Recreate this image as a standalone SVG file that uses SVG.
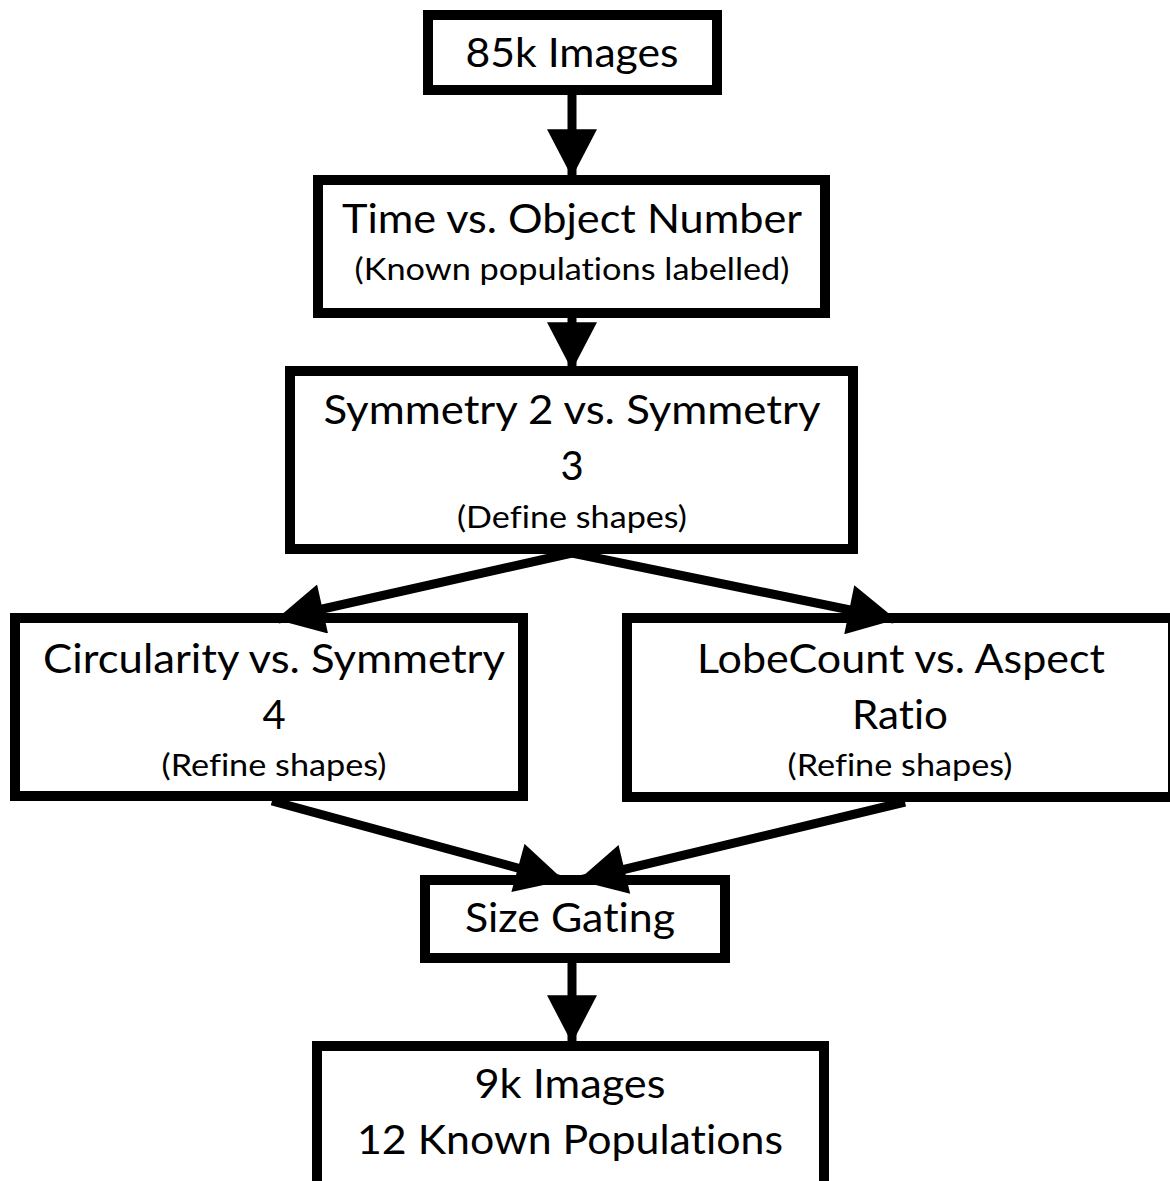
<svg xmlns="http://www.w3.org/2000/svg" width="1170" height="1181" viewBox="0 0 1170 1181">
<style>
.box{fill:#fff;stroke:#000;stroke-width:10}
.t{font-family:Lato,"Open Sans","Liberation Sans",sans-serif;font-size:40px;fill:#000;text-anchor:middle;font-variant-ligatures:none;font-feature-settings:"liga" 0,"dlig" 0}
.s{font-family:Lato,"Open Sans","Liberation Sans",sans-serif;font-size:30px;fill:#000;text-anchor:middle;font-variant-ligatures:none;font-feature-settings:"liga" 0,"dlig" 0}
.c{stroke:#000;stroke-width:9;fill:none;marker-end:url(#ah)}
</style>
<defs>
<marker id="ah" markerUnits="userSpaceOnUse" markerWidth="50" markerHeight="50" viewBox="0 0 44 46" refX="42" refY="23" orient="auto">
<path d="M0,0 L44,23 L0,46 Z" fill="#000"/>
</marker>
</defs>
<rect width="1170" height="1181" fill="#fff"/>
<g id="n1">
<rect class="box" x="428" y="15" width="289" height="75"/>
<text class="t" x="572" y="67" textLength="213" lengthAdjust="spacingAndGlyphs">85k Images</text>
</g>
<g id="n2">
<rect class="box" x="318" y="180" width="507" height="133"/>
<text class="t" x="572" y="233" textLength="460" lengthAdjust="spacingAndGlyphs">Time vs. Object Number</text>
<text class="s" x="572" y="280" textLength="435" lengthAdjust="spacingAndGlyphs">(Known populations labelled)</text>
</g>
<g id="n3">
<rect class="box" x="290" y="371" width="563" height="178"/>
<text class="t" x="572" y="424" textLength="497" lengthAdjust="spacingAndGlyphs">Symmetry 2 vs. Symmetry</text>
<text class="t" x="572" y="480">3</text>
<text class="s" x="572" y="528" textLength="230" lengthAdjust="spacingAndGlyphs">(Define shapes)</text>
</g>
<g id="n4">
<rect class="box" x="15" y="618" width="508" height="178"/>
<text class="t" x="274" y="673" textLength="462" lengthAdjust="spacingAndGlyphs">Circularity vs. Symmetry</text>
<text class="t" x="274" y="729">4</text>
<text class="s" x="274" y="776" textLength="225" lengthAdjust="spacingAndGlyphs">(Refine shapes)</text>
</g>
<g id="n5">
<rect class="box" x="627" y="618" width="546" height="179"/>
<text class="t" x="901" y="673" textLength="408" lengthAdjust="spacingAndGlyphs">LobeCount vs. Aspect</text>
<text class="t" x="900" y="729" textLength="96" lengthAdjust="spacingAndGlyphs">Ratio</text>
<text class="s" x="900" y="776" textLength="225" lengthAdjust="spacingAndGlyphs">(Refine shapes)</text>
</g>
<g id="n6">
<rect class="box" x="425" y="880" width="300" height="78"/>
<text class="t" x="570" y="932" textLength="210" lengthAdjust="spacingAndGlyphs">Size Gating</text>
</g>
<g id="n7">
<rect class="box" x="317" y="1046" width="507" height="140"/>
<text class="t" x="570" y="1098" textLength="191" lengthAdjust="spacingAndGlyphs">9k Images</text>
<text class="t" x="570" y="1154" textLength="426" lengthAdjust="spacingAndGlyphs">12 Known Populations</text>
</g>
<g id="connectors">
<line class="c" x1="572" y1="95" x2="572" y2="175"/>
<line class="c" x1="572" y1="318" x2="572" y2="368"/>
<line class="c" x1="572" y1="553" x2="278" y2="619"/>
<line class="c" x1="572" y1="553" x2="894" y2="619"/>
<line class="c" x1="272" y1="801" x2="562" y2="880"/>
<line class="c" x1="905" y1="802" x2="580" y2="880"/>
<line class="c" x1="572" y1="963" x2="572" y2="1041"/>
</g>
</svg>
